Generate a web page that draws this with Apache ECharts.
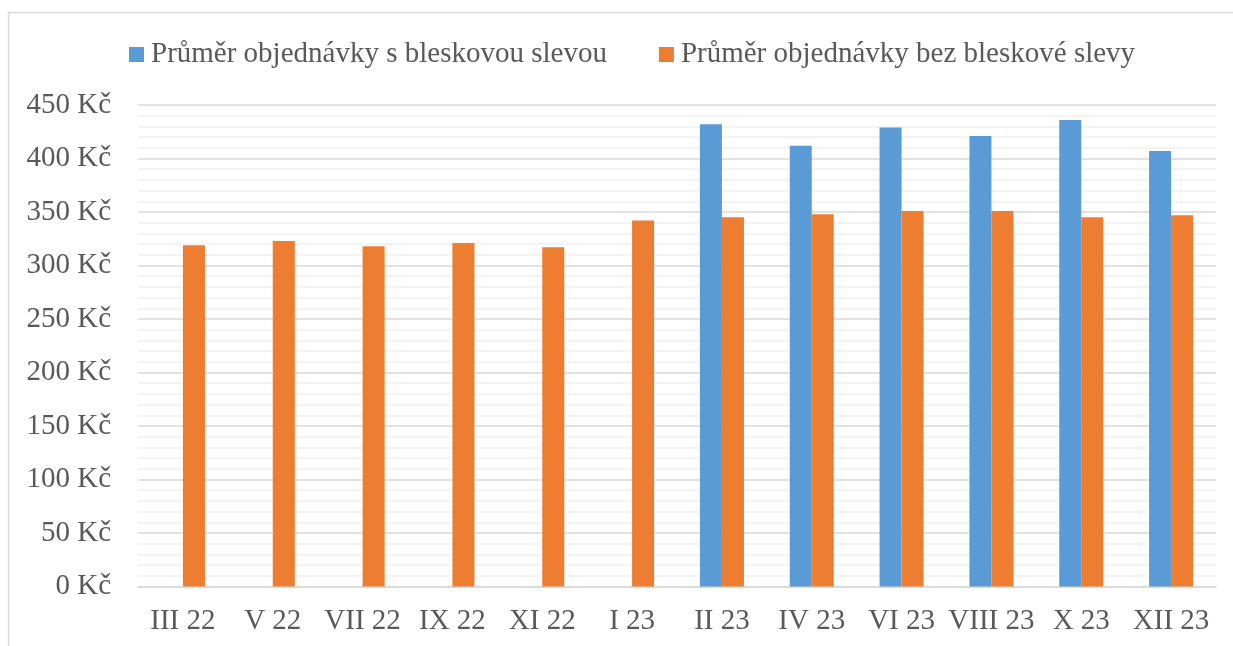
<!DOCTYPE html>
<html>
<head>
<meta charset="utf-8">
<script src="https://cdn.jsdelivr.net/npm/echarts@6/dist/echarts.min.js"></script>
<style>
html,body{margin:0;padding:0;background:#fff;}
#chart{width:1233px;height:646px;}
</style>
</head>
<body>
<div id="chart"></div>
<script>
const categories = ["III 22","V 22","VII 22","IX 22","XI 22","I 23","II 23","IV 23","VI 23","VIII 23","X 23","XII 23"];
const seriesNames = ["Průměr objednávky s bleskovou slevou","Průměr objednávky bez bleskové slevy"];
const withFlash = [null,null,null,null,null,null,432,412,429,421,436,407];
const withoutFlash = [319,323,318,321,317,342,345,348,351,351,345,347];
const yTicks = [0,50,100,150,200,250,300,350,400,450];

const font = '"Liberation Serif","Times New Roman",serif';
const textColor = '#595959';
const chart = echarts.init(document.getElementById('chart'));
chart.setOption({
  animation:false,
  backgroundColor:'#fff',
  graphic:[{
    type:'polyline',
    shape:{points:[[8.5,646],[8.5,12.5],[1233,12.5]]},
    style:{stroke:'#d9d9d9',lineWidth:1.5,fill:null},
    silent:true
  }],
  legend:{
    left:124, top:35,
    itemWidth:15, itemHeight:15, itemGap:52,
    icon:'rect',
    textStyle:{fontFamily:font,fontSize:29,color:textColor,padding:[0,0,0,2]},
    data:seriesNames
  },
  grid:{left:138,right:17,top:105,bottom:59.5,containLabel:false},
  xAxis:{
    type:'category',
    data:categories,
    axisLine:{lineStyle:{color:'#d9d9d9',width:1.5}},
    axisTick:{show:false},
    axisLabel:{fontFamily:font,fontSize:29,color:textColor,margin:20,interval:0}
  },
  yAxis:{
    type:'value',
    min:yTicks[0], max:yTicks[yTicks.length-1], interval:50,
    axisLine:{show:false},
    axisTick:{show:false},
    axisLabel:{fontFamily:font,fontSize:29,color:textColor,margin:27,formatter:v=>v+' Kč'},
    splitLine:{lineStyle:{color:'#d9d9d9',width:1.5}},
    minorTick:{show:false,splitNumber:5},
    minorSplitLine:{show:true,lineStyle:{color:'#efefef',width:1.5}}
  },
  series:[
    {name:seriesNames[0],type:'bar',data:withFlash,barGap:'0%',barCategoryGap:'51%',
     itemStyle:{color:'#5b9bd5'}},
    {name:seriesNames[1],type:'bar',data:withoutFlash,barGap:'0%',barCategoryGap:'51%',
     itemStyle:{color:'#ed7d31'}}
  ]
});
</script>
</body>
</html>
